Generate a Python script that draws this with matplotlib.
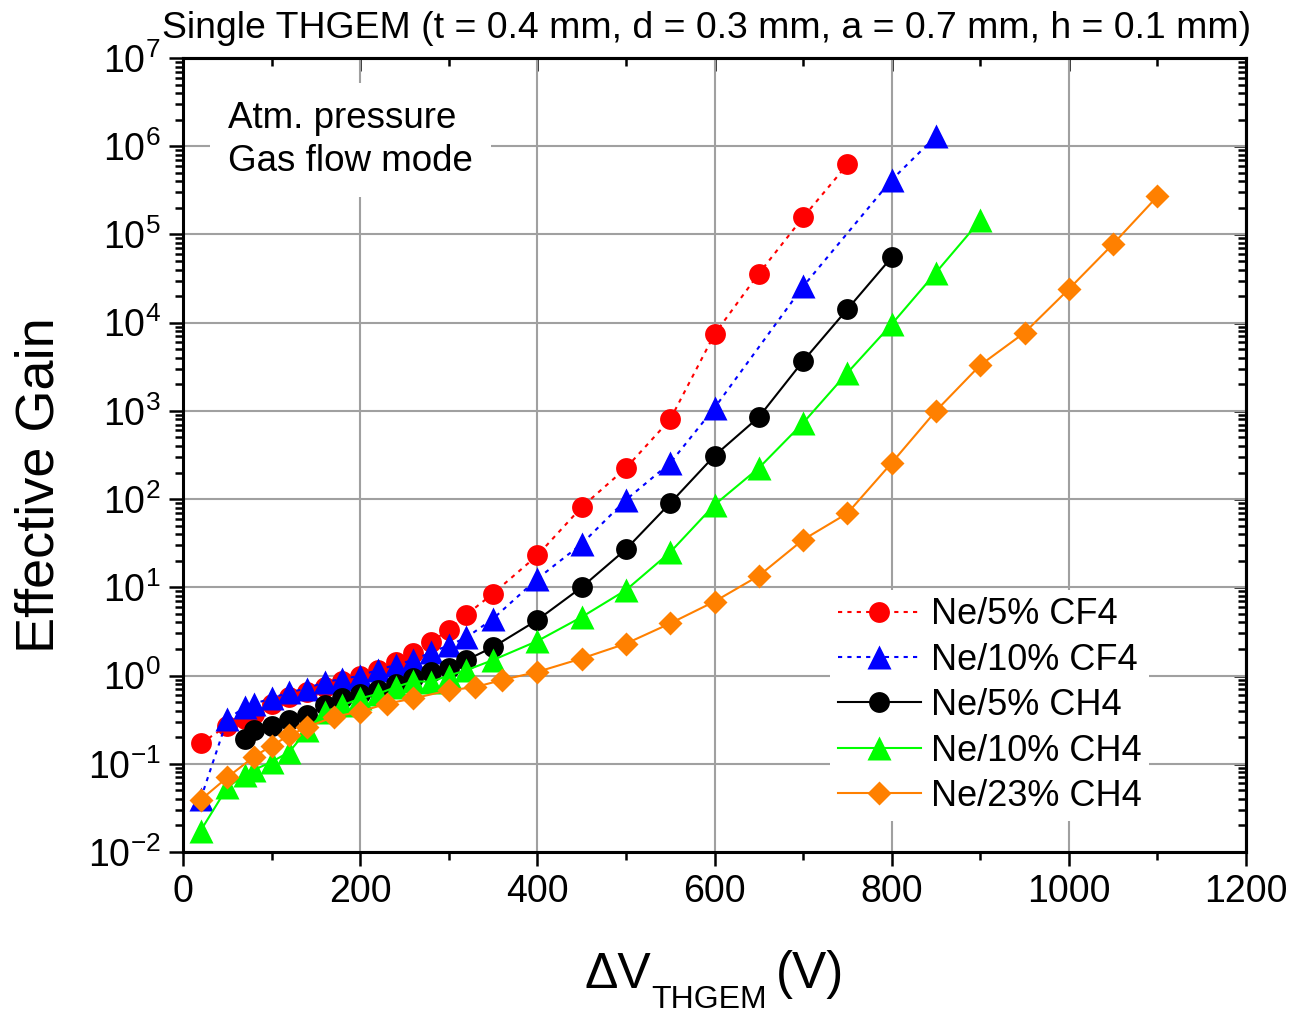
import matplotlib
matplotlib.use('Agg')
import matplotlib.pyplot as plt
from matplotlib.ticker import MultipleLocator, LogLocator, NullFormatter

plt.rcParams['font.family'] = ['Liberation Sans', 'DejaVu Sans']
plt.rcParams['mathtext.fontset'] = 'custom'
plt.rcParams['mathtext.rm'] = 'Liberation Sans'
plt.rcParams['mathtext.it'] = 'Liberation Sans:italic'
plt.rcParams['mathtext.default'] = 'regular'
plt.rcParams['axes.unicode_minus'] = False

# -- data --
v_ne5cf4 = [20, 50, 70, 80, 100, 120, 140, 160, 180, 200, 220, 240, 260, 280, 300,
            320, 350, 400, 450, 500, 550, 600, 650, 700, 750]
g_ne5cf4 = [0.17, 0.27, 0.32, 0.37, 0.48, 0.57, 0.65, 0.74, 0.86, 1.0, 1.15, 1.43, 1.8,
            2.4, 3.3, 4.9, 8.5, 23, 81, 225, 800, 7400, 36000, 156000, 620000]

v_ne10cf4 = [20, 50, 70, 80, 100, 120, 140, 160, 180, 200, 220, 240, 260, 280, 300,
             320, 350, 400, 450, 500, 550, 600, 700, 800, 850]
g_ne10cf4 = [0.04, 0.32, 0.44, 0.48, 0.55, 0.65, 0.71, 0.85, 0.91, 1.0, 1.16, 1.32, 1.5,
             1.83, 2.2, 2.7, 4.4, 12.5, 31, 98, 257, 1080, 25700, 415000, 1.3e6]

v_ne5ch4 = [70, 80, 100, 120, 140, 160, 180, 200, 220, 240, 260, 280, 300, 320, 350,
            400, 450, 500, 550, 600, 650, 700, 750, 800]
g_ne5ch4 = [0.19, 0.24, 0.27, 0.31, 0.355, 0.46, 0.55, 0.61, 0.68, 0.81, 0.94, 1.1, 1.22,
            1.5, 2.1, 4.26, 10, 27, 90, 310, 850, 3670, 14200, 55000]

v_ne10ch4 = [20, 50, 70, 80, 100, 120, 140, 160, 180, 200, 220, 240, 260, 280, 300,
             320, 350, 400, 450, 500, 550, 600, 650, 700, 750, 800, 850, 900]
g_ne10ch4 = [0.0175, 0.054, 0.075, 0.085, 0.105, 0.136, 0.24, 0.39, 0.46, 0.55, 0.62,
             0.74, 0.86, 0.85, 1.0, 1.15, 1.5, 2.46, 4.6, 9.3, 25, 86, 225, 730, 2700,
             9600, 37000, 144000]

v_ne23ch4 = [20, 50, 80, 100, 120, 140, 170, 200, 230, 260, 300, 330, 360, 400, 450,
             500, 550, 600, 650, 700, 750, 800, 850, 900, 950, 1000, 1050, 1100]
g_ne23ch4 = [0.039, 0.07, 0.12, 0.16, 0.21, 0.26, 0.34, 0.39, 0.48, 0.55, 0.68, 0.74,
             0.89, 1.1, 1.56, 2.3, 3.9, 6.9, 13.5, 34.6, 69, 257, 1000, 3300, 7700,
             24000, 78000, 270000]

# -- figure --
fig = plt.figure(figsize=(12.97, 10.15), dpi=100)
ax = fig.add_axes([0.1411, 0.1606, 0.8196, 0.7823])

dot = (0, (2, 2.5))
lw = 1.5
ax.plot(v_ne5cf4, g_ne5cf4, color='#ff0000', ls=dot, lw=lw, marker='o', ms=15,
        mec='none', label='Ne/5% CF4')
ax.plot(v_ne10cf4, g_ne10cf4, color='#0000ff', ls=dot, lw=lw, marker='^', ms=17,
        mec='none', label='Ne/10% CF4')
ax.plot(v_ne5ch4, g_ne5ch4, color='black', ls='-', lw=lw, marker='o', ms=15,
        mec='none', label='Ne/5% CH4')
ax.plot(v_ne10ch4, g_ne10ch4, color='#00ff00', ls='-', lw=lw, marker='^', ms=17,
        mec='none', label='Ne/10% CH4')
ax.plot(v_ne23ch4, g_ne23ch4, color='#ff8000', ls='-', lw=lw, marker='D', ms=12,
        mec='none', label='Ne/23% CH4')

ax.set_yscale('log')
ax.set_xlim(0, 1200)
ax.set_ylim(1e-2, 1e7)

ax.xaxis.set_major_locator(MultipleLocator(200))
ax.xaxis.set_minor_locator(MultipleLocator(100))
ax.yaxis.set_major_locator(LogLocator(base=10, numticks=20))
ax.yaxis.set_minor_locator(LogLocator(base=10, subs=range(2, 10), numticks=20))
ax.yaxis.set_minor_formatter(NullFormatter())

ax.grid(True, which='major', color='#a0a0a0', lw=1.5)
ax.set_axisbelow(True)

for s in ax.spines.values():
    s.set_linewidth(2.2)

ax.tick_params(which='major', direction='out', length=10, width=1.8, labelsize=27, pad=6)
ax.tick_params(which='minor', direction='out', length=5.5, width=1.8)

# mirrored ticks pointing inward on top and right
top = ax.secondary_xaxis('top')
top.xaxis.set_major_locator(MultipleLocator(200))
top.xaxis.set_minor_locator(MultipleLocator(100))
top.tick_params(which='major', direction='in', length=9, width=1.8, labeltop=False)
top.tick_params(which='minor', direction='in', length=5.5, width=1.8)
top.spines['top'].set_linewidth(2.2)

right = ax.secondary_yaxis('right')
right.yaxis.set_major_locator(LogLocator(base=10, numticks=20))
right.yaxis.set_minor_locator(LogLocator(base=10, subs=range(2, 10), numticks=20))
right.tick_params(which='major', direction='in', length=9, width=1.8, labelright=False)
right.tick_params(which='minor', direction='in', length=5.5, width=1.8, labelright=False)
right.spines['right'].set_linewidth(2.2)

# axis titles
fig.text(40 / 1297, 1 - 485 / 1015, 'Effective Gain', fontsize=39, rotation=90,
         ha='center', va='center')
fig.text(585 / 1297, 1 - 988 / 1015, 'ΔV', fontsize=36, ha='left', va='baseline')
fig.text(651 / 1297, 1 - 1008 / 1015, 'THGEM', fontsize=23, ha='left', va='baseline')
fig.text(776 / 1297, 1 - 988 / 1015, '(V)', fontsize=37, ha='left', va='baseline')

fig.text(707 / 1297, 1 - 38 / 1015,
         'Single THGEM (t = 0.4 mm, d = 0.3 mm, a = 0.7 mm, h = 0.1 mm)',
         fontsize=26.9, ha='center', va='baseline')

ax.text(0.0423, 0.897, 'Atm. pressure\nGas flow mode', transform=ax.transAxes,
        fontsize=26.5, ha='left', va='center', linespacing=1.3,
        bbox=dict(facecolor='white', edgecolor='none', pad=13))

leg = ax.legend(loc='upper left', bbox_to_anchor=(0.609, 0.33), fontsize=26,
                frameon=True, facecolor='white', edgecolor='none', framealpha=1,
                fancybox=False, numpoints=1, handlelength=2.3, handletextpad=0.3,
                labelspacing=0.29, borderpad=0.2, borderaxespad=0)

fig.savefig('out.png', dpi=100)
